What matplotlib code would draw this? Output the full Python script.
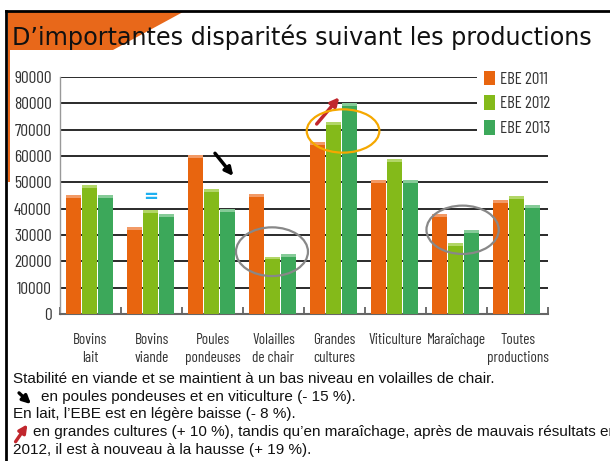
import matplotlib
matplotlib.use("Agg")
import matplotlib.pyplot as plt
from matplotlib import font_manager as fm
from matplotlib.patches import Ellipse, Polygon, Rectangle, FancyArrowPatch
from matplotlib.lines import Line2D
import numpy as np

# ---------------- data ----------------
categories = ["Bovins\nlait", "Bovins\nviande", "Poules\npondeuses", "Volailles\nde chair",
              "Grandes\ncultures", "Viticulture", "Maraîchage", "Toutes\nproductions"]
series_names = ["EBE 2011", "EBE 2012", "EBE 2013"]
ebe_2011 = [45000, 33000, 60500, 45700, 65300, 51000, 38000, 43200]
ebe_2012 = [49000, 39500, 47500, 21800, 73000, 59000, 26800, 44700]
ebe_2013 = [45000, 38000, 40000, 22900, 80000, 51000, 32000, 41400]
y_ticks = [0, 10000, 20000, 30000, 40000, 50000, 60000, 70000, 80000, 90000]

title = "D\u2019importantes disparités suivant les productions"
notes = [
    "Stabilité en viande et se maintient à un bas niveau en volailles de chair.",
    "en poules pondeuses et en viticulture (- 15 %).",
    "En lait, l\u2019EBE est en légère baisse (- 8 %).",
    "en grandes cultures (+ 10 %), tandis qu\u2019en maraîchage, après de mauvais résultats en",
    "2012, il est à nouveau à la hausse (+ 19 %).",
]

colors = ["#E8650F", "#84BA1A", "#3CA85A"]
caps = ["#F4A070", "#B8DA70", "#8FD0A0"]

names = {f.name for f in fm.fontManager.ttflist}
COND = [n for n in ["Barlow Condensed", "Roboto Condensed", "Archivo Narrow"] if n in names][:1] + ["DejaVu Sans"]
SANS = "Liberation Sans" if "Liberation Sans" in names else "DejaVu Sans"

W, H = 610, 461
fig = plt.figure(figsize=(W / 100, H / 100), dpi=100)
fig.patch.set_facecolor("white")

def fx(px):
    return px / W

def fy(py):
    return 1 - py / H

# ---------------- slide decoration ----------------
header = Polygon([(fx(8), fy(12)), (fx(183), fy(12)), (fx(113), fy(50)), (fx(8), fy(50))],
                 closed=True, transform=fig.transFigure, facecolor="#E8681A",
                 edgecolor="none", zorder=0)
fig.patches.append(header)
strip = Rectangle((fx(7.5), fy(182)), fx(2.5), fy(12) - fy(182), transform=fig.transFigure,
                  facecolor="#E8681A", edgecolor="none", zorder=0)
fig.patches.append(strip)
fig.lines.append(Line2D([fx(5.5), fx(610)], [fy(11), fy(11)], transform=fig.transFigure,
                        color="black", lw=2))
fig.lines.append(Line2D([fx(5.5), fx(5.5)], [fy(11), fy(461)], transform=fig.transFigure,
                        color="black", lw=2))

fig.text(fx(12), fy(45), title, fontsize=17.2, family="DejaVu Sans", color="#111111",
         va="baseline", ha="left")

# ---------------- chart ----------------
ax = fig.add_axes([fx(60), fy(314), fx(548) - fx(60), fy(77) - fy(314)])
x = np.arange(len(categories))
offsets = [-0.285, -0.02, 0.245]
bw = 0.245
cap_h = 1100
for vals, off, col, cap, name in zip([ebe_2011, ebe_2012, ebe_2013], offsets, colors, caps,
                                     series_names):
    v = np.array(vals)
    ax.bar(x + off, v, width=bw, color=col, label=name, zorder=3)
    ax.bar(x + off, np.full(len(v), cap_h), bottom=v - cap_h, width=bw, color=cap,
           zorder=3.1, alpha=0.9)

ax.set_xlim(-0.5, len(categories) - 0.5)
ax.set_ylim(0, 90000)
ax.set_yticks(y_ticks)
ax.set_yticklabels([str(t) for t in y_ticks], family=COND, fontsize=12.5, color="#333333")
ax.tick_params(axis="y", length=0, pad=6)
ax.yaxis.grid(True, color="#2a2a2a", lw=1.4, zorder=1)
ax.set_axisbelow(True)

ax.set_xticks(x)
ax.set_xticklabels(categories, family=COND, fontsize=11, color="#333333", linespacing=1.4)
ax.tick_params(axis="x", which="major", length=0, pad=13.5)
ax.set_xticks(np.arange(len(categories) + 1) - 0.5, minor=True)
ax.tick_params(axis="x", which="minor", direction="in", length=5, width=1.2, color="#555555")

for s in ["top", "right"]:
    ax.spines[s].set_visible(False)
ax.spines["left"].set_color("#999999")
ax.spines["left"].set_linewidth(1.0)
ax.spines["bottom"].set_color("#666666")
ax.spines["bottom"].set_linewidth(1.5)

# annotations
ax.text(0.99, 44550, "=", color="#1EB0F0", fontsize=13, fontweight="bold",
        ha="center", va="center", zorder=5)
ax.annotate("", xy=(2.341, 52410), xytext=(2.041, 61030),
            arrowprops=dict(arrowstyle="-|>", lw=2.5, color="black", mutation_scale=12,
                            shrinkA=0, shrinkB=0), zorder=5)
ax.annotate("", xy=(4.079, 82300), xytext=(3.708, 72160),
            arrowprops=dict(arrowstyle="-|>", lw=2.5, color="#C1272D", mutation_scale=12,
                            shrinkA=0, shrinkB=0), zorder=5)
for cx, cy, ew, eh, ec in [(2.975, 23660, 1.18, 18500, "#888888"),
                           (4.14, 69500, 1.19, 16450, "#F5A800"),
                           (6.10, 31980, 1.185, 18350, "#888888")]:
    ax.add_patch(Ellipse((cx, cy), ew, eh, fill=False, edgecolor=ec, lw=1.6, zorder=6))

leg = ax.legend(loc="upper left", bbox_to_anchor=(fx(477), fy(64)),
                bbox_transform=fig.transFigure, frameon=True, fancybox=False,
                facecolor="white", edgecolor="none", framealpha=1,
                prop={"family": COND, "size": 12}, handlelength=0.65, handleheight=0.95,
                handletextpad=0.3, labelspacing=0.53, borderpad=0.4, borderaxespad=0)
for t in leg.get_texts():
    t.set_color("#333333")

# ---------------- bottom notes ----------------
note_x = [13, 41, 13, 33, 13]
note_y = [379, 396.5, 414, 432, 449.5]
for txt, nx, ny in zip(notes, note_x, note_y):
    fig.text(fx(nx), fy(ny), txt, fontsize=11, family=SANS, color="#111111",
             ha="left", va="center")

fig.add_artist(FancyArrowPatch(
    (fx(17), fy(391)), (fx(33), fy(406)), transform=fig.transFigure,
    arrowstyle="-|>", mutation_scale=12, lw=2.4, color="black"))
fig.add_artist(FancyArrowPatch(
    (fx(14), fy(444)), (fx(29), fy(422)), transform=fig.transFigure,
    arrowstyle="-|>", mutation_scale=12, lw=2.4, color="#C1272D"))

fig.savefig("out.png", dpi=100, facecolor="white")
